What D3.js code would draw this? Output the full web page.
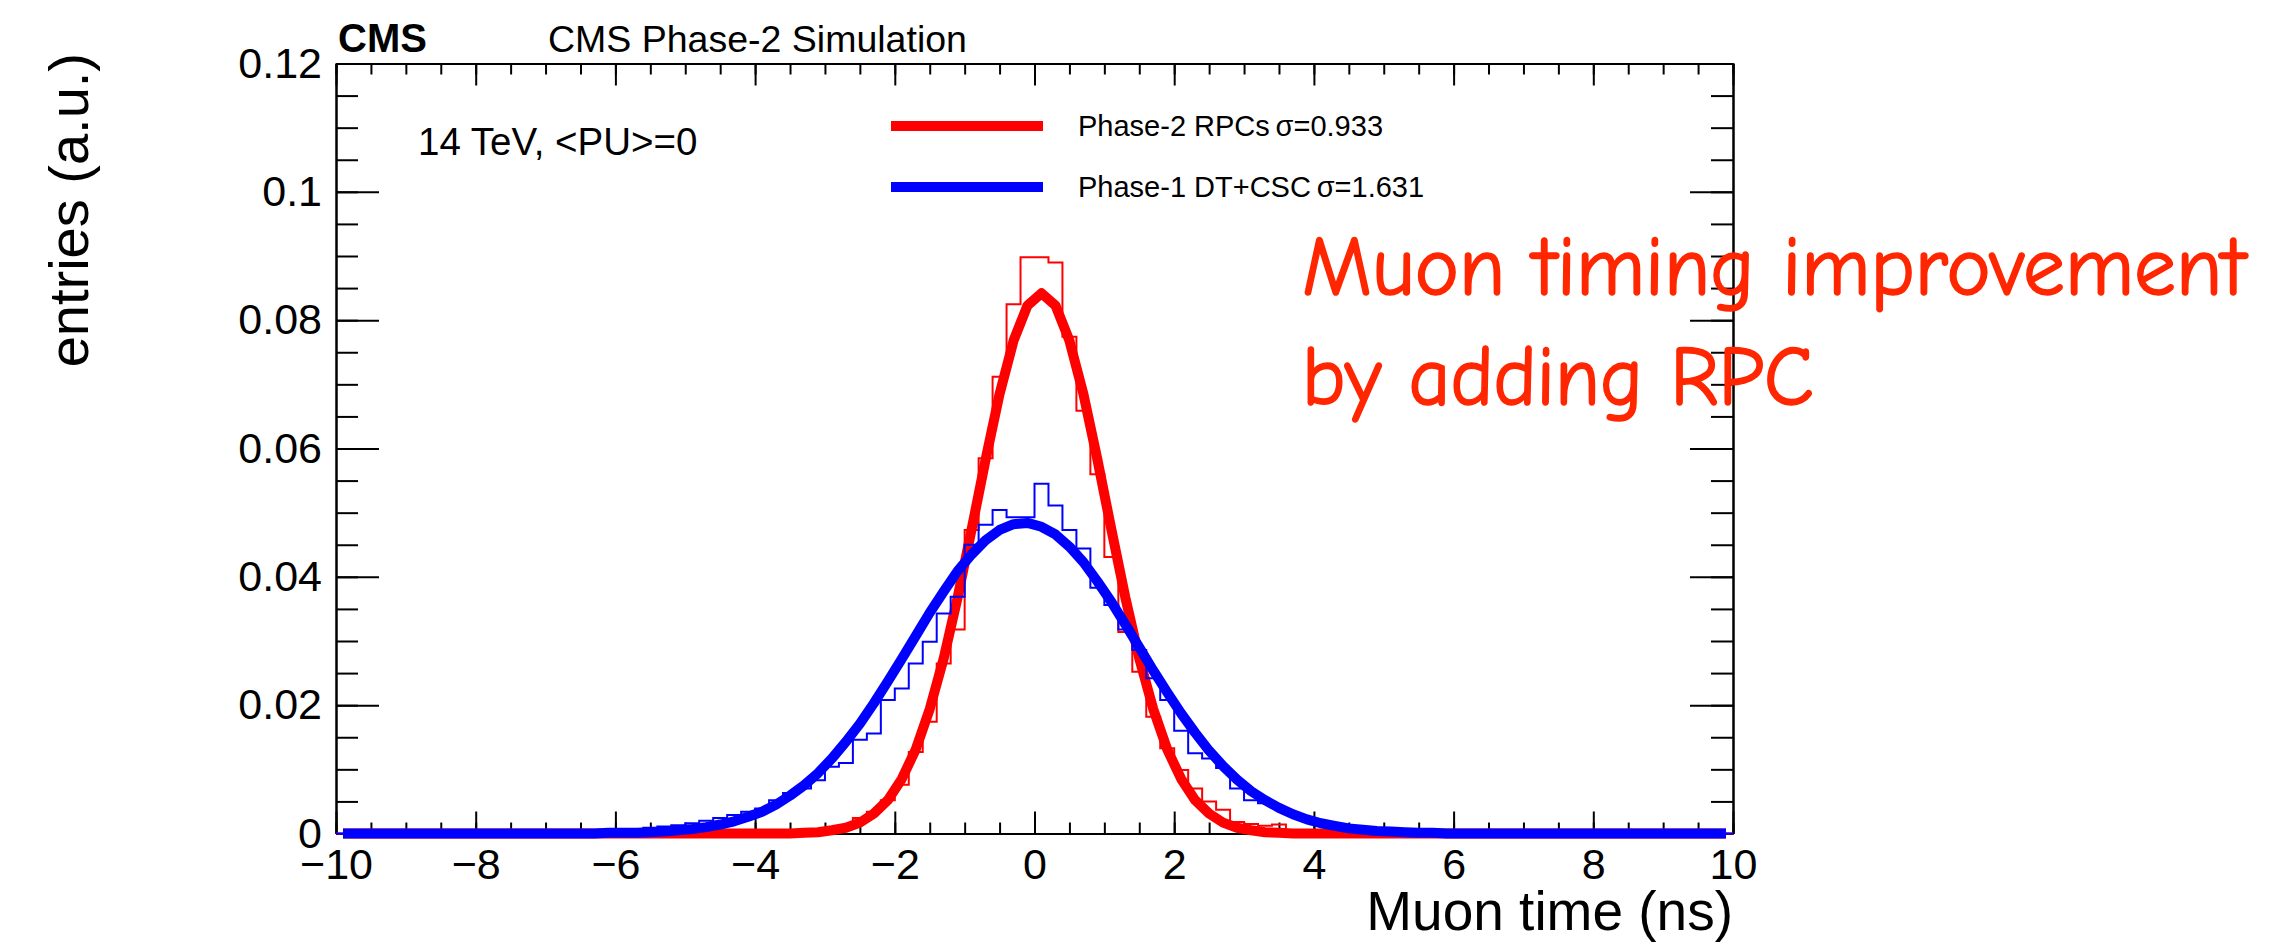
<!DOCTYPE html>
<html>
<head>
<meta charset="utf-8">
<script src="https://cdn.jsdelivr.net/npm/d3@7"></script>
<style>
  body { margin: 0; background: #fff; }
  text { font-family: "Liberation Sans", Arial, Helvetica, sans-serif; fill: #000; }
</style>
</head>
<body>
<div id="chart"></div>
<script>

// bin centres of the 100 bins, 0.2 ns wide, from -10 to 10 ns
var binCenters = [
    -9.9, -9.7, -9.5, -9.3, -9.1, -8.9, -8.7, -8.5, -8.3, -8.1,
    -7.9, -7.7, -7.5, -7.3, -7.1, -6.9, -6.7, -6.5, -6.3, -6.1,
    -5.9, -5.7, -5.5, -5.3, -5.1, -4.9, -4.7, -4.5, -4.3, -4.1,
    -3.9, -3.7, -3.5, -3.3, -3.1, -2.9, -2.7, -2.5, -2.3, -2.1,
    -1.9, -1.7, -1.5, -1.3, -1.1, -0.9, -0.7, -0.5, -0.3, -0.1,
    0.1, 0.3, 0.5, 0.7, 0.9, 1.1, 1.3, 1.5, 1.7, 1.9,
    2.1, 2.3, 2.5, 2.7, 2.9, 3.1, 3.3, 3.5, 3.7, 3.9,
    4.1, 4.3, 4.5, 4.7, 4.9, 5.1, 5.3, 5.5, 5.7, 5.9,
    6.1, 6.3, 6.5, 6.7, 6.9, 7.1, 7.3, 7.5, 7.7, 7.9,
    8.1, 8.3, 8.5, 8.7, 8.9, 9.1, 9.3, 9.5, 9.7, 9.9
];
var binWidth = 0.2;

// Phase-2 RPCs histogram
var rpcHist = [
    0, 0, 0, 0, 0, 0, 0, 0, 0, 0,
    0, 0, 0, 0, 0, 0, 0, 0, 0, 0,
    0, 0, 0, 0, 0, 0, 0, 0, 0, 0,
    0, 0, 0.0001, 0.0002, 0.0004, 0.0006, 0.0013, 0.0024, 0.0034, 0.0052,
    0.0076, 0.0127, 0.0174, 0.0265, 0.0318, 0.0473, 0.0585, 0.0712, 0.0825, 0.0898,
    0.0898, 0.0890, 0.0774, 0.0659, 0.0560, 0.0431, 0.0314, 0.0252, 0.0182, 0.0133,
    0.0099, 0.0070, 0.0050, 0.0037, 0.0018, 0.0015, 0.0012, 0.0014, 0.0005, 0.0002,
    0.0001, 0, 0, 0, 0, 0, 0, 0, 0, 0,
    0, 0, 0, 0, 0, 0, 0, 0, 0, 0,
    0, 0, 0, 0, 0, 0, 0, 0, 0, 0
];

// Phase-2 RPCs fit, read at the bin centres
var rpcFit = [
    0, 0, 0, 0, 0, 0, 0, 0, 0, 0,
    0, 0, 0, 0, 0, 0, 0, 0, 0, 0,
    0, 0, 0, 0, 0, 0, 0, 0, 0, 0,
    0, 0, 0, 0.0001, 0.0002, 0.0005, 0.0009, 0.0017, 0.0031, 0.0052,
    0.0085, 0.0131, 0.0194, 0.0273, 0.0368, 0.0474, 0.0583, 0.0685, 0.0768, 0.0823,
    0.0842, 0.0823, 0.0768, 0.0685, 0.0583, 0.0474, 0.0368, 0.0273, 0.0194, 0.0131,
    0.0085, 0.0052, 0.0031, 0.0017, 0.0009, 0.0005, 0.0002, 0.0001, 0, 0,
    0, 0, 0, 0, 0, 0, 0, 0, 0, 0,
    0, 0, 0, 0, 0, 0, 0, 0, 0, 0,
    0, 0, 0, 0, 0, 0, 0, 0, 0, 0
];

// Phase-1 DT+CSC histogram
var dtcscHist = [
    0, 0, 0, 0, 0, 0, 0, 0, 0, 0,
    0, 0, 0, 0, 0, 0, 0, 0.0001, 0.0002, 0.0003,
    0.0004, 0.0006, 0.0009, 0.0011, 0.0013, 0.0016, 0.0020, 0.0024, 0.0029, 0.0034,
    0.0039, 0.0052, 0.0063, 0.0070, 0.0083, 0.0104, 0.0110, 0.0146, 0.0156, 0.0208,
    0.0226, 0.0265, 0.0299, 0.0343, 0.0369, 0.0450, 0.0481, 0.0504, 0.0493, 0.0493,
    0.0545, 0.0511, 0.0473, 0.0444, 0.0383, 0.0356, 0.0318, 0.0286, 0.0242, 0.0208,
    0.0160, 0.0125, 0.0117, 0.0102, 0.0070, 0.0052, 0.0047, 0.0040, 0.0030, 0.0023,
    0.0017, 0.0012, 0.0009, 0.0006, 0.0004, 0.0003, 0.0002, 0.0001, 0, 0,
    0, 0, 0, 0, 0, 0, 0, 0, 0, 0,
    0, 0, 0, 0, 0, 0, 0, 0, 0, 0
];

// Phase-1 DT+CSC fit, read at the bin centres
var dtcscFit = [
    0, 0, 0, 0, 0, 0, 0, 0, 0, 0,
    0, 0, 0, 0, 0, 0, 0, 0, 0, 0.0001,
    0.0001, 0.0001, 0.0002, 0.0003, 0.0005, 0.0007, 0.0010, 0.0014, 0.0019, 0.0026,
    0.0034, 0.0045, 0.0059, 0.0075, 0.0094, 0.0117, 0.0143, 0.0171, 0.0203, 0.0237,
    0.0272, 0.0308, 0.0344, 0.0377, 0.0409, 0.0435, 0.0457, 0.0473, 0.0482, 0.0484,
    0.0478, 0.0466, 0.0447, 0.0423, 0.0393, 0.0361, 0.0326, 0.0290, 0.0254, 0.0220,
    0.0187, 0.0157, 0.0129, 0.0105, 0.0084, 0.0066, 0.0052, 0.0040, 0.0030, 0.0022,
    0.0016, 0.0012, 0.0008, 0.0006, 0.0004, 0.0003, 0.0002, 0.0001, 0.0001, 0,
    0, 0, 0, 0, 0, 0, 0, 0, 0, 0,
    0, 0, 0, 0, 0, 0, 0, 0, 0, 0
];

var xTickValues = [-10, -8, -6, -4, -2, 0, 2, 4, 6, 8, 10];
var xTickLabels = ["\u221210", "\u22128", "\u22126", "\u22124", "\u22122", "0", "2", "4", "6", "8", "10"];
var yTickValues = [0, 0.02, 0.04, 0.06, 0.08, 0.1, 0.12];
var yTickLabels = ["0", "0.02", "0.04", "0.06", "0.08", "0.1", "0.12"];

var legendLabels = ["Phase-2 RPCs\u2009\u03c3=0.933", "Phase-1 DT+CSC\u2009\u03c3=1.631"];
var legendColors = ["#ff0000", "#0000ff"];

var svgWidth = 2279;
var svgHeight = 943;

var margin = {
    top: 63.5,
    right: 546,
    bottom: 109.5,
    left: 336
};

var width = svgWidth - margin.left - margin.right;
var height = svgHeight - margin.top - margin.bottom;

var svg = d3.select("#chart")
    .append("svg")
    .attr("width", svgWidth)
    .attr("height", svgHeight);

var chartGroup = svg.append("g")
    .attr("transform", `translate(${margin.left}, ${margin.top})`);

var xLinearScale = d3.scaleLinear().domain([-10, 10]).range([0, width]);
var yLinearScale = d3.scaleLinear().domain([0, 0.12]).range([height, 0]);

var xMinor = d3.range(-10, 10.001, 0.5);
var yMinor = d3.range(0, 0.1201, 0.005);

function styleAxis(g, fontSize) {
    g.selectAll("path, line").attr("stroke", "#000").attr("stroke-width", 2);
    g.selectAll("text")
        .attr("font-size", fontSize)
        .attr("font-family", "'Liberation Sans', Arial, Helvetica, sans-serif")
        .attr("fill", "#000");
}

// bottom axis: major with labels, minor without
var bottomAxis = chartGroup.append("g")
    .attr("transform", `translate(0, ${height})`)
    .call(d3.axisBottom(xLinearScale).tickValues(xTickValues).tickSize(-22).tickSizeOuter(0)
        .tickPadding(15).tickFormat((d, i) => xTickLabels[i]));
chartGroup.append("g")
    .attr("transform", `translate(0, ${height})`)
    .call(d3.axisBottom(xLinearScale).tickValues(xMinor).tickSize(-11).tickSizeOuter(0).tickFormat(""))
    .call(g => styleAxis(g, 43));
styleAxis(bottomAxis, 43);

// top axis, ticks only
chartGroup.append("g")
    .call(d3.axisTop(xLinearScale).tickValues(xTickValues).tickSize(-22).tickSizeOuter(0).tickFormat(""))
    .call(g => styleAxis(g, 43));
chartGroup.append("g")
    .call(d3.axisTop(xLinearScale).tickValues(xMinor).tickSize(-11).tickSizeOuter(0).tickFormat(""))
    .call(g => styleAxis(g, 43));

// left axis
var leftAxis = chartGroup.append("g")
    .call(d3.axisLeft(yLinearScale).tickValues(yTickValues).tickSize(-43).tickSizeOuter(0)
        .tickPadding(14).tickFormat((d, i) => yTickLabels[i]));
styleAxis(leftAxis, 43);
chartGroup.append("g")
    .call(d3.axisLeft(yLinearScale).tickValues(yMinor).tickSize(-22).tickSizeOuter(0).tickFormat(""))
    .call(g => styleAxis(g, 43));

// right axis, ticks only
chartGroup.append("g")
    .attr("transform", `translate(${width}, 0)`)
    .call(d3.axisRight(yLinearScale).tickValues(yTickValues).tickSize(-43).tickSizeOuter(0).tickFormat(""))
    .call(g => styleAxis(g, 43));
chartGroup.append("g")
    .attr("transform", `translate(${width}, 0)`)
    .call(d3.axisRight(yLinearScale).tickValues(yMinor).tickSize(-22).tickSizeOuter(0).tickFormat(""))
    .call(g => styleAxis(g, 43));

// histograms drawn as steps
function histPoints(values) {
    var pts = binCenters.map((c, i) => [c - binWidth / 2, values[i]]);
    pts.push([binCenters[binCenters.length - 1] + binWidth / 2, values[values.length - 1]]);
    return pts;
}

var stepLine = d3.line()
    .x(d => xLinearScale(d[0]))
    .y(d => yLinearScale(d[1]))
    .curve(d3.curveStepAfter);

var fitLine = d3.line()
    .x(d => xLinearScale(d[0]))
    .y(d => yLinearScale(d[1]));

chartGroup.append("path")
    .attr("d", stepLine(histPoints(rpcHist)))
    .attr("fill", "none")
    .attr("stroke", legendColors[0])
    .attr("stroke-width", 2);

chartGroup.append("path")
    .attr("d", fitLine(binCenters.map((c, i) => [c, rpcFit[i]])))
    .attr("fill", "none")
    .attr("stroke", legendColors[0])
    .attr("stroke-width", 10)
    .attr("stroke-linejoin", "round");

chartGroup.append("path")
    .attr("d", stepLine(histPoints(dtcscHist)))
    .attr("fill", "none")
    .attr("stroke", legendColors[1])
    .attr("stroke-width", 2);

chartGroup.append("path")
    .attr("d", fitLine(binCenters.map((c, i) => [c, dtcscFit[i]])))
    .attr("fill", "none")
    .attr("stroke", legendColors[1])
    .attr("stroke-width", 10)
    .attr("stroke-linejoin", "round");

// legend
var legend = svg.append("g");
legendLabels.forEach((label, i) => {
    var ly = 126 + i * 61;
    legend.append("line")
        .attr("x1", 891).attr("x2", 1043)
        .attr("y1", ly).attr("y2", ly)
        .attr("stroke", legendColors[i])
        .attr("stroke-width", 10);
    legend.append("text")
        .attr("x", 1078)
        .attr("y", ly + 10)
        .attr("font-size", 29)
        .text(label);
});

// labels
svg.append("text")
    .attr("x", 338).attr("y", 52)
    .attr("font-size", 40)
    .attr("font-weight", "bold")
    .text("CMS");

svg.append("text")
    .attr("x", 548).attr("y", 52)
    .attr("font-size", 37.5)
    .text("CMS Phase-2 Simulation");

svg.append("text")
    .attr("x", 418).attr("y", 155)
    .attr("font-size", 38.5)
    .text("14 TeV, <PU>=0");

svg.append("text")
    .attr("transform", "translate(88, 53) rotate(-90)")
    .attr("text-anchor", "end")
    .attr("font-size", 56)
    .text("entries (a.u.)");

svg.append("text")
    .attr("x", margin.left + width).attr("y", 930)
    .attr("text-anchor", "end")
    .attr("font-size", 55)
    .text("Muon time (ns)");

// hand-written note
var note = svg.append("g");
[["Muon timing improvement", 295, 944], ["by adding RPC", 405, 512]].forEach(line => {
    note.append("text")
        .attr("x", 1302).attr("y", line[1])
        .attr("font-size", 84)
        .attr("textLength", line[2])
        .attr("lengthAdjust", "spacingAndGlyphs")
        .style("fill", "#ff2600")
        .style("stroke", "#ff2600")
        .style("stroke-width", 1.6)
        .style("font-family", "'Comic Sans MS', 'Comic Neue', 'Noto Sans', sans-serif")
        .text(line[0]);
});

</script>
</body>
</html>
